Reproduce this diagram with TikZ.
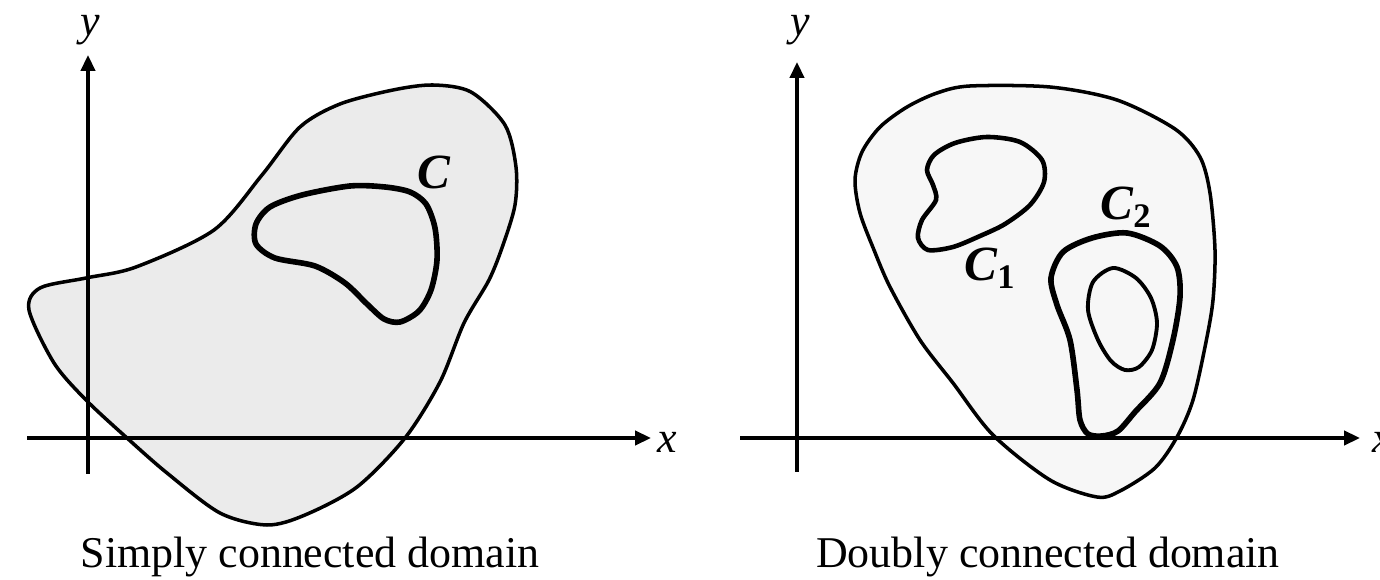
\documentclass[tikz,border=0pt]{standalone}
\usepackage{fontspec}
\setmainfont{Liberation Serif}
\usetikzlibrary{arrows.meta}

\begin{document}
\begin{tikzpicture}[x=0.02cm,y=-0.02cm,
    axis/.style     = {line width=2pt,-{Triangle[length=9pt,width=8pt]}},
    rim/.style      = {line width=2pt},
    loop/.style     = {line width=3.2pt},
    axlab/.style    = {font=\fontsize{25}{30}\selectfont\itshape,inner sep=0pt},
    curvelab/.style = {font=\fontsize{28}{32}\selectfont\bfseries\itshape,inner sep=0pt},
    caption/.style  = {font=\fontsize{25}{30}\selectfont,inner sep=0pt,anchor=base},
  ]
  \useasboundingbox (0,0) rectangle (1380,580);

  % Simply connected domain
  \draw[rim,fill=black!8] plot[smooth cycle] coordinates {
      (433,85) (471,92) (505,125) (516,167) (515,205) (503,245) (489,280)
      (464,323) (440,382) (405,438) (357,487) (305,515) (267,525) (220,513)
      (167,473) (127,438) (86,400) (54,363) (29,310) (40,288) (86,278)
      (136,267) (214,230) (262,175) (300,127) (340,104) (393,90)};

  \coordinate (lxs) at (27,438);
  \coordinate (lxe) at (651,438);
  \coordinate (lys) at (88,474);
  \coordinate (lye) at (88,55);
  \draw[axis] (lxs) -- (lxe);
  \draw[axis] (lys) -- (lye);
  \node[axlab] (lx) at (667,442) {x};
  \node[axlab] (ly) at (90,30) {y};

  \draw[loop] plot[smooth cycle] coordinates {
      (350,186) (385,187) (410,192) (426,204) (435,228) (437,260) (431,290)
      (419,311) (400,322) (384,319) (367,304) (345,283) (315,266) (275,258)
      (256,244) (256,224) (270,207) (302,195)};
  \node[curvelab] (cl) at (434,172) {C};

  \node[caption] (capl) at (310,568) {Simply connected domain};

  % Doubly connected domain
  \draw[rim,fill=black!3] plot[smooth cycle] coordinates {
      (970,86) (1050,87) (1117,100) (1175,129) (1200,157) (1210,193)
      (1215,250) (1213,300) (1206,342) (1193,400) (1177,437) (1155,468)
      (1120,491) (1097,497) (1050,480) (993,435) (953,383) (920,340)
      (890,287) (874,250) (860,213) (855,180) (862,152) (880,127)
      (907,107) (937,93)};

  \coordinate (rxs) at (740,438);
  \coordinate (rxe) at (1360,438);
  \coordinate (rys) at (797,472);
  \coordinate (rye) at (797,62);
  \draw[axis] (rxs) -- (rxe);
  \draw[axis] (rys) -- (rye);
  \node[axlab,anchor=west] (rx) at (1372,442) {x};
  \node[axlab] (ry) at (800,30) {y};

  \draw[line width=2.6pt] plot[smooth cycle] coordinates {
      (987,137) (1020,142) (1042,160) (1044,182) (1030,205) (1005,224)
      (980,236) (953,247) (928,250) (918,238) (922,220) (936,200) (933,185)
      (927,170) (934,155) (955,143)};
  \node[curvelab] (c1) at (990,268) {C\textsubscript{\upshape 1}};

  \draw[loop] plot[smooth cycle] coordinates {
      (1127,233) (1160,246) (1177,267) (1180,297) (1173,340) (1160,383)
      (1135,412) (1118,431) (1102,436) (1088,434) (1080,420) (1077,390)
      (1070,340) (1057,305) (1051,278) (1063,252) (1092,238)};
  \node[curvelab] (c2) at (1126,207) {C\textsubscript{\upshape 2}};

  \draw[line width=2.2pt] plot[smooth cycle] coordinates {
      (1113,268) (1136,278) (1151,298) (1157,323) (1152,350) (1139,367)
      (1125,370) (1111,361) (1098,340) (1088,310) (1093,282)};

  \node[caption] (capr) at (1048,568) {Doubly connected domain};
\end{tikzpicture}
\end{document}
